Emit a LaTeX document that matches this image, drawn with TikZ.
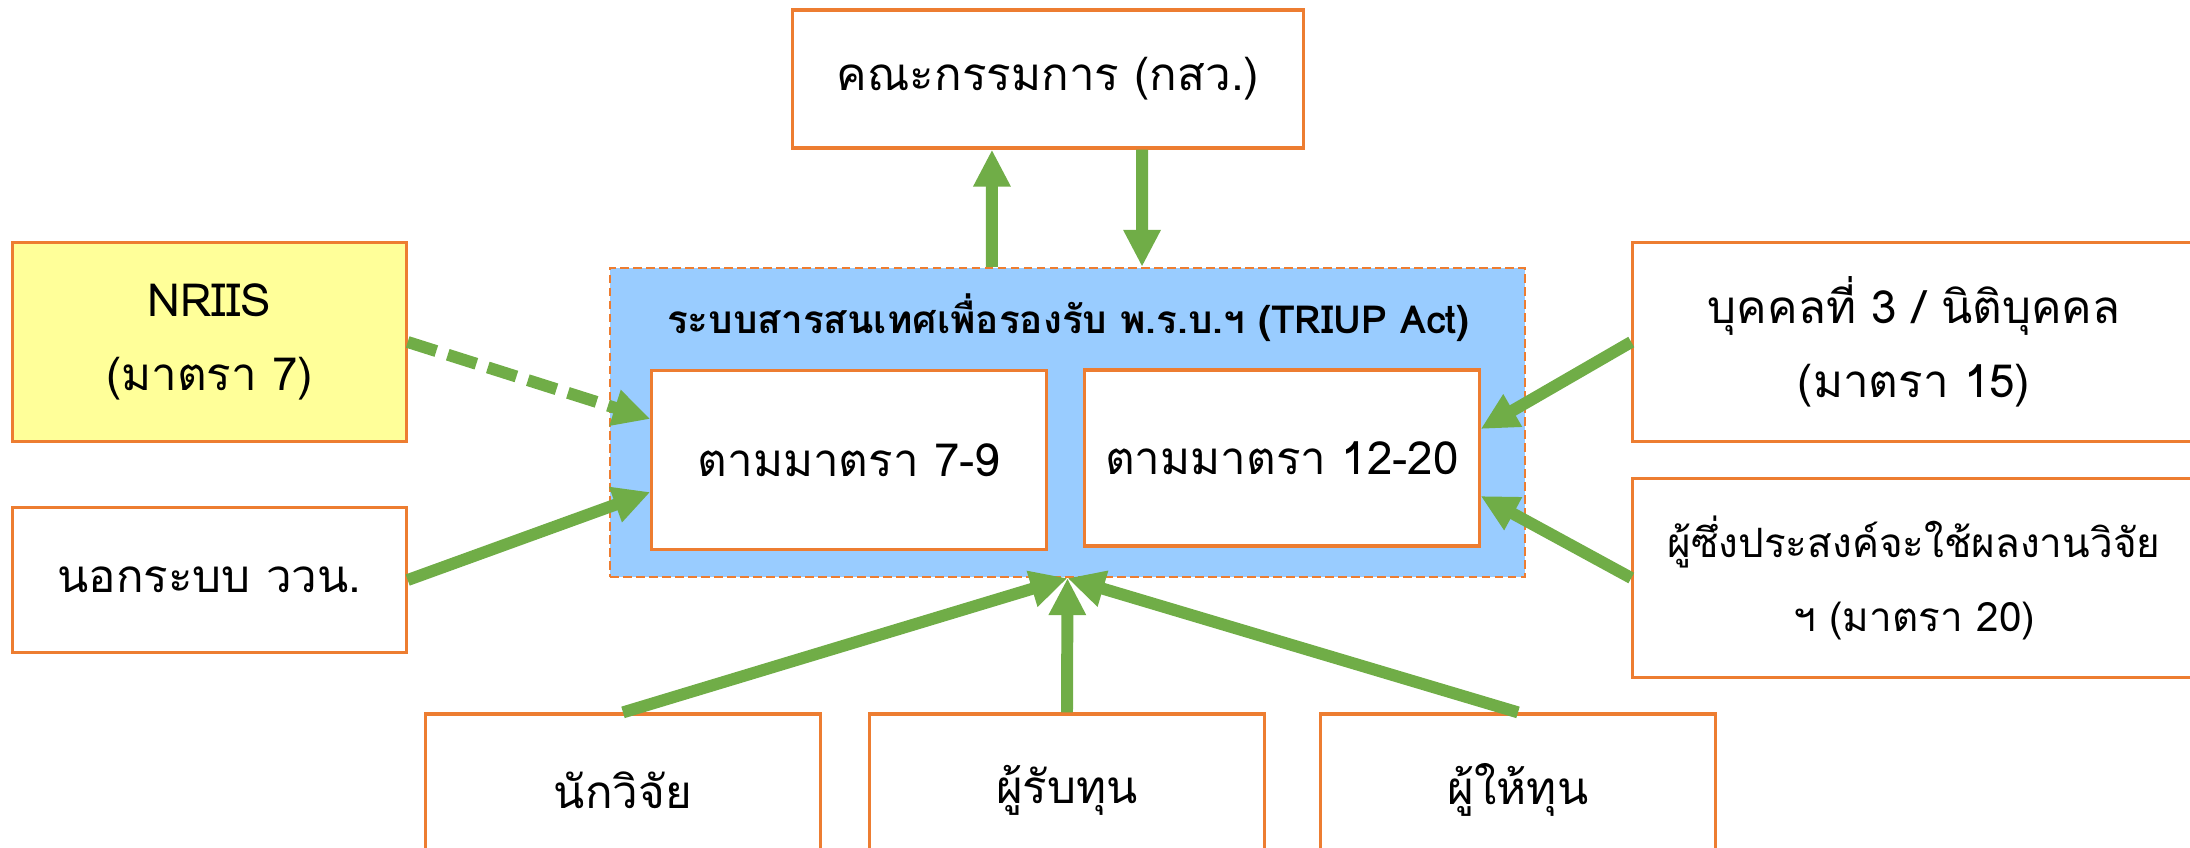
\documentclass[tikz,border=0pt]{standalone}
\usepackage{fontspec}
\setmainfont{Loma}[Script=Thai]
\usetikzlibrary{arrows.meta}

\definecolor{boxorange}{HTML}{ED7D31}
\definecolor{flowgreen}{HTML}{70AD47}
\definecolor{sysblue}{HTML}{99CCFF}
\definecolor{nriisyellow}{HTML}{FFFF99}

\begin{document}
\begin{tikzpicture}[x=0.01cm,y=0.01cm,>={Triangle[length=0.37cm,width=0.35cm]},
	box/.style={draw=boxorange,line width=0.9pt,fill=white,minimum width=3.94cm,align=center,font=\fontsize{13}{21}\selectfont},
	sysbox/.style={draw=boxorange,line width=0.6pt,dash pattern=on 2.5pt off 1.2pt,fill=sysblue},
	every edge/.append style={draw=flowgreen,line width=3.4pt}]

\useasboundingbox (0,0) rectangle (2190,847);
\clip (0,0) rectangle (2190,847);

\node[box,minimum width=5.10cm,minimum height=1.38cm]   (kom) at (1048,768)   {คณะกรรมการ (กสว.)};
\node[sysbox,minimum width=9.15cm,minimum height=3.09cm]   (sys) at (1067.5,424.5)   {};
\node[font=\fontsize{11}{21}\selectfont\bfseries]   (title) at (1068,529)   {ระบบสารสนเทศเพื่อรองรับ พ.ร.บ.ฯ (TRIUP Act)};
\node[box,minimum height=1.79cm]   (sec7) at (849,387)   {ตามมาตรา 7-9};
\node[box,minimum height=1.76cm]   (sec12) at (1282,389)   {ตามมาตรา 12-20};

\node[box,fill=nriisyellow,minimum width=3.93cm,minimum height=1.99cm]   (nriis) at (209.5,505)   {NRIIS\\(มาตรา 7)};
\node[box,minimum width=3.93cm,minimum height=1.45cm]   (outside) at (209.5,267)   {นอกระบบ ววน.};

\node[box,minimum width=5.62cm,minimum height=1.99cm]   (third) at (1914,505)   {บุคคลที่ 3 / นิติบุคคล\\(มาตรา 15)};
\node[box,minimum width=5.62cm,minimum height=1.99cm,font=\fontsize{11.5}{21}\selectfont]   (user) at (1914,269)   {ผู้ซึ่งประสงค์จะใช้ผลงานวิจัย\\ฯ (มาตรา 20)};

\node[box,minimum height=1.52cm]   (res) at (623,57)   {นักวิจัย};
\node[box,minimum height=1.52cm]   (grantee) at (1067,57)   {ผู้รับทุน};
\node[box,minimum height=1.52cm]   (funder) at (1518,57)   {ผู้ให้ทุน};

	\path[->] ([xshift=-0.755cm]sys.north)  edge  ([xshift=-0.56cm]kom.south)
						([xshift=0.94cm]kom.south)  edge  ([xshift=0.745cm]sys.north)
						(outside.east)  edge  ([yshift=-0.32cm]sec7.west)
						(third.west)  edge  ([yshift=0.29cm]sec12.east)
						(user.west)  edge  ([yshift=-0.38cm]sec12.east)
						(res.north)  edge  (sys.south)
						(grantee.north)  edge  (sys.south)
						(funder.north)  edge  (sys.south)
						(nriis.east)  edge[dash pattern=on 0.3cm off 0.12cm]  ([yshift=0.41cm]sec7.west);
	\end{tikzpicture}
\end{document}
